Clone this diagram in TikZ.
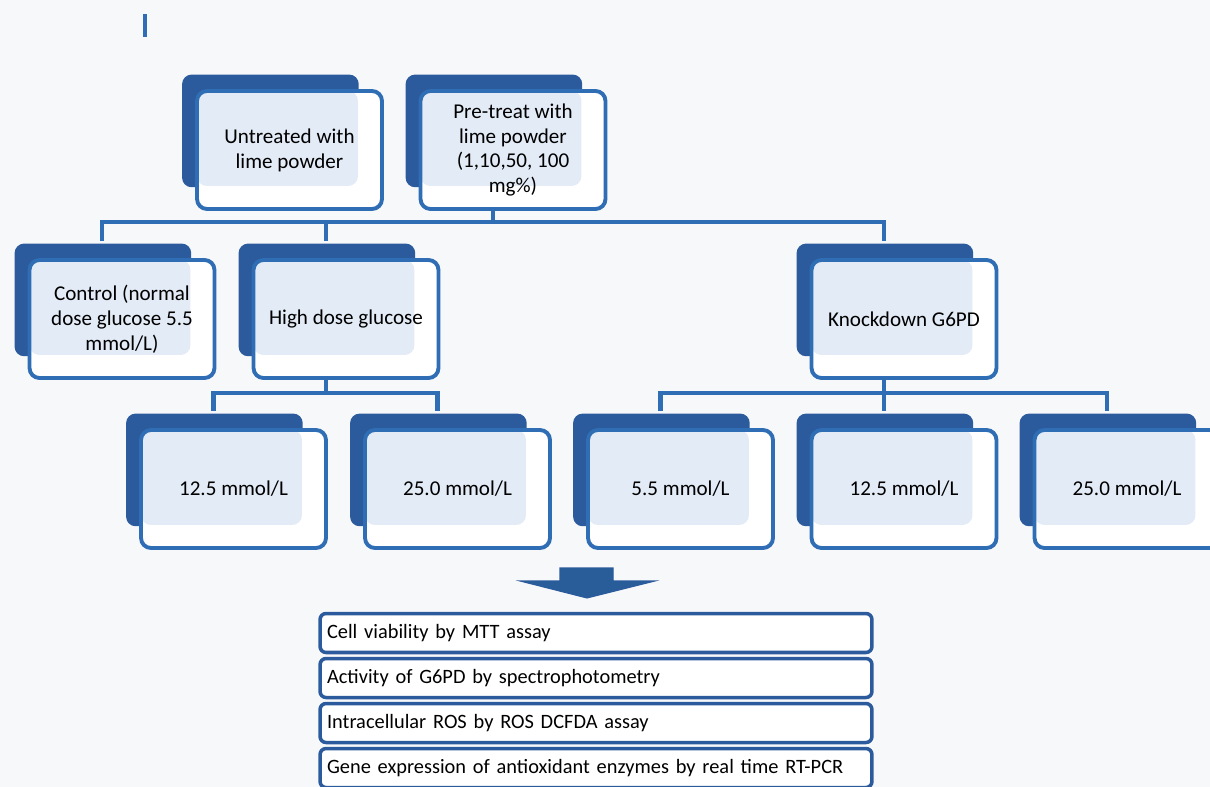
\documentclass[tikz,border=0pt]{standalone}
\usepackage{fontspec}
\setmainfont{Carlito}
\usetikzlibrary{calc, positioning, shadows, backgrounds}
\definecolor{backblue}{HTML}{2B5B9C}
\definecolor{edgeblue}{HTML}{2F6DB5}
\definecolor{paleblue}{HTML}{E3EBF6}
\definecolor{paper}{HTML}{F7F8FA}

\begin{document}
\begin{tikzpicture}[
  x=0.02cm, y=-0.02cm,
  card/.style={rectangle, rounded corners=0.2cm, draw=edgeblue, line width=2.2pt, fill=white,
    minimum width=3.7cm, minimum height=2.36cm, align=center, font=\fontsize{12}{14.2}\selectfont,
    general shadow={fill=backblue, shadow scale=0.955, shadow xshift=-0.4cm, shadow yshift=0.4cm},
    path picture={\fill[paleblue] (path picture bounding box.north west) rectangle
      ($(path picture bounding box.south east)+(-24,-23)$);}},
  link/.style={draw=edgeblue, line width=2.4pt},
  result/.style={rectangle, rounded corners=0.12cm, draw=backblue, line width=2pt, fill=white,
    minimum width=11.04cm, minimum height=0.78cm, text width=10.76cm, inner xsep=0.14cm,
    align=left, font=\fontsize{11.6}{14}\selectfont},
  node distance=0.05cm
]

\useasboundingbox (0,0) rectangle (1210,787);
\clip (0,0) rectangle (1210,787);
\fill[paper] (0,0) rectangle (1210,787);
\fill[edgeblue] (143,14) rectangle (147,37);

% Treatment
\node[card] (untreated) at (289.5,150) {Untreated with\\lime powder};
\node[card] (pretreat) at (513,150) {Pre-treat with\\lime powder\\(1,10,50, 100\\mg\%)};

% Glucose groups
\node[card] (control) at (122,319) {Control (normal\\dose glucose 5.5\\mmol/L)};
\node[card] (hdg) at (346,319) {High dose glucose};
\node[card] (knock) at (904,319) {Knockdown G6PD};

% Concentrations
\node[card] (h125) at (233.5,489) {12.5 mmol/L};
\node[card] (h250) at (457.5,489) {25.0 mmol/L};
\node[card] (k55) at (680.5,489) {5.5 mmol/L};
\node[card] (k125) at (904,489) {12.5 mmol/L};
\node[card] (k250) at (1127,489) {25.0 mmol/L};

% Bus lines
\coordinate (bus1) at ($(knock.north)+(-20,-36)$);
\coordinate (bus2) at ($(h250.north)+(-20,-35)$);
\coordinate (pt) at ($(pretreat.south)+(-20,0)$);
\coordinate (hd) at ($(hdg.south)+(-20,0)$);
\coordinate (kd) at ($(knock.south)+(-20,0)$);

\draw[link] (pt) -- (pt |- bus1);
\draw[link] ($(control.north)+(-20,-17)$) |- (bus1) -- ($(knock.north)+(-20,-17)$);
\draw[link] ($(hdg.north)+(-20,-17)$) -- ($(hdg.north)+(-20,-36)$);

\draw[link] (hd) -- (hd |- bus2);
\draw[link] ($(h125.north)+(-20,-17)$) |- (bus2) -- ($(h250.north)+(-20,-17)$);

\draw[link] (kd) -- (kd |- bus2);
\draw[link] ($(k55.north)+(-20,-17)$) |- ($(k250.north)+(-20,-35)$) -- ($(k250.north)+(-20,-17)$);
\draw[link] ($(k125.north)+(-20,-17)$) -- ($(k125.north)+(-20,-35)$);

% Measurements
\node[result] (m1) at (596,633) {Cell viability by MTT assay};
\node[result, below=of m1] (m2) {Activity of G6PD by spectrophotometry};
\node[result, below=of m2] (m3) {Intracellular ROS by ROS DCFDA assay};
\node[result, below=of m3] (m4) {Gene expression of antioxidant enzymes by real time RT-PCR};

% Down arrow
\coordinate (arr) at (587,568);
\filldraw[fill=edgeblue!85!black, draw=backblue, line width=0.6pt]
  ($(arr)+(-27,0)$) -- ($(arr)+(26,0)$) -- ($(arr)+(26,13)$) -- ($(arr)+(68,13)$)
  -- ($(arr)+(0,30)$) -- ($(arr)+(-67,13)$) -- ($(arr)+(-27,13)$) -- cycle;

\end{tikzpicture}
\end{document}
